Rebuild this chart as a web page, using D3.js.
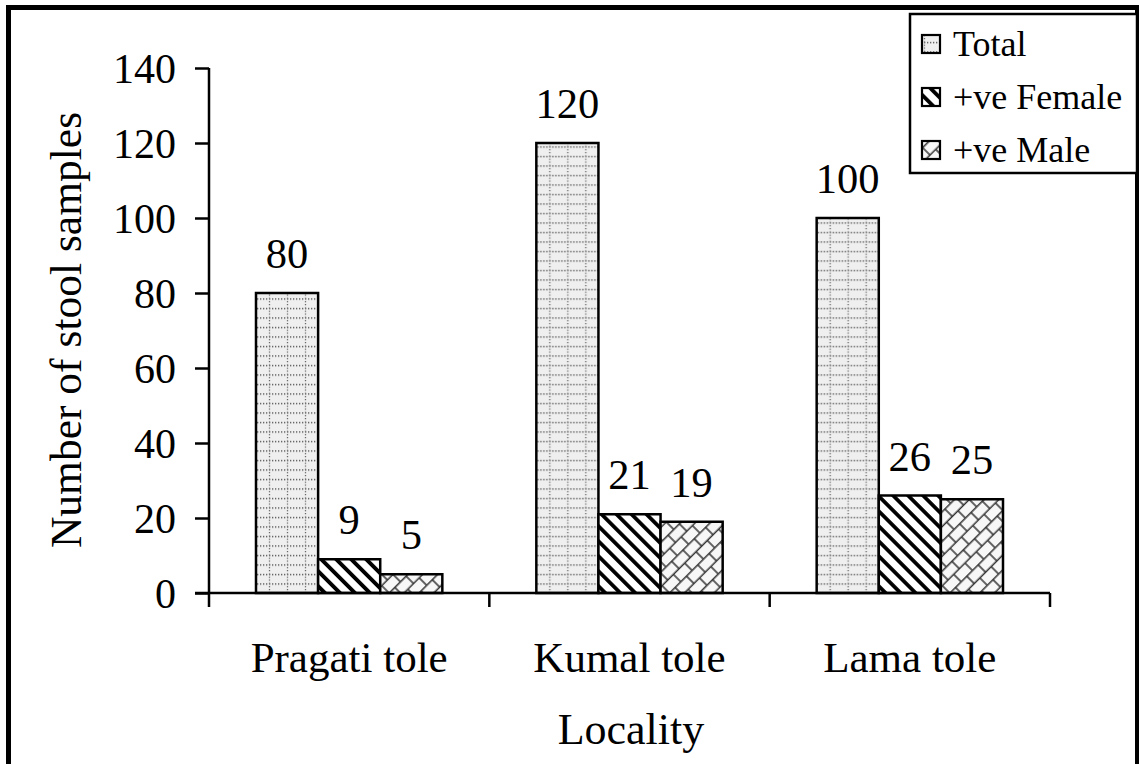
<!DOCTYPE html>
<html>
<head>
<meta charset="utf-8">
<script src="https://cdn.jsdelivr.net/npm/d3@7"></script>
<style>
  html, body { margin: 0; padding: 0; background: #fff; }
  svg { display: block; }
  svg text { font-family: "Times New Roman", "Liberation Serif", serif; }
</style>
</head>
<body>
<svg id="chart" width="1139" height="764"></svg>
<script>
// Stool samples examined per locality
const localities = ["Pragati tole", "Kumal tole", "Lama tole"];
const seriesNames = ["Total", "+ve Female", "+ve Male"];
const totalValues = [80, 120, 100];
const femaleValues = [9, 21, 26];
const maleValues = [5, 19, 25];
const yTicks = [0, 20, 40, 60, 80, 100, 120, 140];

const seriesValues = [totalValues, femaleValues, maleValues];
const patternIds = ["pat-total", "pat-female", "pat-male"];
const FONT = "'Times New Roman', 'Liberation Serif', serif";

const svg = d3.select("#chart");
const defs = svg.append("defs");

// Dotted grid on light grey for the totals
const pTotal = defs.append("pattern").attr("id", "pat-total")
  .attr("patternUnits", "userSpaceOnUse").attr("width", 18).attr("height", 9.5);
pTotal.append("rect").attr("width", 18).attr("height", 9.5).attr("fill", "#efefef");
pTotal.append("line").attr("x1", 0).attr("y1", 4.5).attr("x2", 18).attr("y2", 4.5)
  .attr("stroke", "#555").attr("stroke-width", 1.3).attr("stroke-dasharray", "1.3 1.7");
pTotal.append("line").attr("x1", 6.5).attr("y1", 0).attr("x2", 6.5).attr("y2", 9.5)
  .attr("stroke", "#666").attr("stroke-width", 1.3).attr("stroke-dasharray", "1.3 2");

// Heavy back-slash stripes for females
const pFemale = defs.append("pattern").attr("id", "pat-female")
  .attr("patternUnits", "userSpaceOnUse").attr("width", 10.6).attr("height", 10.6)
  .attr("patternTransform", "rotate(-45)");
pFemale.append("rect").attr("width", 10.6).attr("height", 10.6).attr("fill", "#fff");
pFemale.append("rect").attr("x", 0).attr("y", 0).attr("width", 3.8).attr("height", 10.6).attr("fill", "#000");

// Brick-like lattice for males: long "/" lines joined by short "\" steps
const pMale = defs.append("pattern").attr("id", "pat-male")
  .attr("patternUnits", "userSpaceOnUse").attr("width", 16).attr("height", 21)
  .attr("patternTransform", "rotate(-45)");
pMale.append("rect").attr("width", 16).attr("height", 21).attr("fill", "#f7f7f7");
pMale.append("line").attr("x1", 0).attr("y1", 0.8).attr("x2", 16).attr("y2", 0.8)
  .attr("stroke", "#333").attr("stroke-width", 1.5);
pMale.append("line").attr("x1", 0).attr("y1", 11.3).attr("x2", 16).attr("y2", 11.3)
  .attr("stroke", "#333").attr("stroke-width", 1.5);
pMale.append("line").attr("x1", 4).attr("y1", 0.8).attr("x2", 4).attr("y2", 11.3)
  .attr("stroke", "#333").attr("stroke-width", 1.5);
pMale.append("line").attr("x1", 12).attr("y1", 11.3).attr("x2", 12).attr("y2", 21)
  .attr("stroke", "#333").attr("stroke-width", 1.5);

// Outer frame
svg.append("rect").attr("x", 8.5).attr("y", 7.5).attr("width", 1129).attr("height", 820)
  .attr("fill", "none").attr("stroke", "#000").attr("stroke-width", 5);

const plot = { left: 209, right: 1050, top: 68, bottom: 593 };

const x0 = d3.scaleBand().domain(localities).range([plot.left, plot.right]).padding(0);
const x1 = d3.scaleBand().domain(seriesNames)
  .range([47, x0.bandwidth() - 47]).padding(0);
const y = d3.scaleLinear().domain([0, 140]).range([plot.bottom, plot.top]);

// Bars with value labels
const groups = svg.append("g").selectAll("g").data(localities).join("g")
  .attr("transform", d => `translate(${x0(d)},0)`);

groups.each(function (loc, i) {
  const g = d3.select(this);
  seriesNames.forEach((s, j) => {
    const v = seriesValues[j][i];
    g.append("rect")
      .attr("x", x1(s)).attr("y", y(v))
      .attr("width", x1.bandwidth()).attr("height", y(0) - y(v))
      .attr("fill", `url(#${patternIds[j]})`)
      .attr("stroke", "#000").attr("stroke-width", 2.5);
    g.append("text")
      .attr("x", x1(s) + x1.bandwidth() / 2).attr("y", y(v) - 25)
      .attr("text-anchor", "middle").attr("font-size", 42.5)
      .attr("font-family", FONT).attr("fill", "#000")
      .text(v);
  });
});

// Y axis
const yAxis = d3.axisLeft(y).tickValues(yTicks).tickSize(14).tickPadding(19).tickSizeOuter(0);
const gy = svg.append("g").attr("transform", `translate(${plot.left},0)`).call(yAxis);
gy.attr("font-family", FONT);
gy.select(".domain").attr("d", `M0,${plot.top}V${plot.bottom + 14}`);
gy.selectAll("line, .domain").attr("stroke", "#000").attr("stroke-width", 2.5);
gy.selectAll("text").attr("font-size", 42).attr("font-family", FONT)
  .attr("fill", "#000").attr("dy", "0.34em");

// X axis with tick marks on category boundaries
const gx = svg.append("g").attr("transform", `translate(0,${plot.bottom})`);
gx.append("line").attr("x1", plot.left - 14).attr("x2", plot.right)
  .attr("stroke", "#000").attr("stroke-width", 2.5);
const boundaries = localities.map(d => x0(d) + x0.bandwidth());
gx.selectAll("line.b").data(boundaries).join("line").attr("class", "b")
  .attr("x1", d => d).attr("x2", d => d).attr("y1", 0).attr("y2", 14)
  .attr("stroke", "#000").attr("stroke-width", 2.5);
gx.selectAll("text").data(localities).join("text")
  .attr("x", d => x0(d) + x0.bandwidth() / 2).attr("y", 79)
  .attr("text-anchor", "middle").attr("font-size", 43)
  .attr("font-family", FONT).attr("fill", "#000")
  .text(d => d);

// Axis titles
svg.append("text").attr("x", 631).attr("y", 744).attr("text-anchor", "middle")
  .attr("font-size", 44).attr("font-family", FONT).attr("fill", "#000").text("Locality");
svg.append("text").attr("transform", "translate(81,330) rotate(-90)")
  .attr("text-anchor", "middle").attr("font-size", 43.5)
  .attr("font-family", FONT).attr("fill", "#000")
  .text("Number of stool samples");

// Legend
const legend = svg.append("g");
legend.append("rect").attr("x", 910).attr("y", 14).attr("width", 227).attr("height", 159)
  .attr("fill", "#fff").attr("stroke", "#000").attr("stroke-width", 2.5);
seriesNames.forEach((s, j) => {
  const cy = 44 + j * 53;
  legend.append("rect").attr("x", 922).attr("y", cy - 9).attr("width", 18).attr("height", 18)
    .attr("fill", `url(#${patternIds[j]})`).attr("stroke", "#000").attr("stroke-width", 2.2);
  legend.append("text").attr("x", 953).attr("y", cy + 12).attr("font-size", 36)
    .attr("font-family", FONT).attr("fill", "#000").text(s);
});
</script>
</body>
</html>
